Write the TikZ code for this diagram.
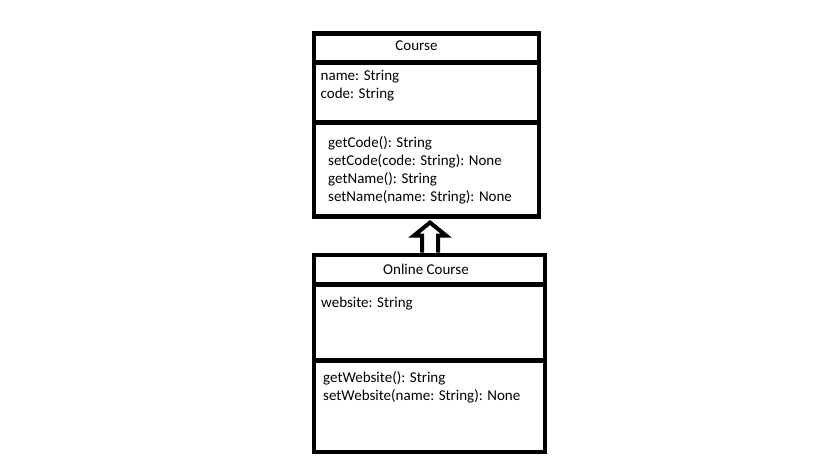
\documentclass[tikz,border=0pt]{standalone}
\usepackage{fontspec}
\setmainfont{Carlito}
\begin{document}
\begin{tikzpicture}[x=1pt,y=-1pt,
  umlbox/.style={draw=black,line width=4.5pt,fill=white,inner sep=0pt,anchor=north west},
  sep/.style={draw=black,line width=4.5pt},
  txt/.style={anchor=base west,inner sep=0pt,font=\fontsize{15}{18}\selectfont},
  ttl/.style={anchor=base,inner sep=0pt,font=\fontsize{15}{18}\selectfont},
  inh/.style={draw=black,line width=4pt,fill=white,miter limit=10}]
\useasboundingbox (0,0) rectangle (819,460);
% Course class
\node[umlbox,minimum width=225pt,minimum height=182.5pt] (course) at (311.5,31.5) {};
\draw[sep] (311.5,62.5) -- (536.5,62.5);
\draw[sep] (311.5,122.5) -- (540,122.5);
\node[ttl] (ctitle) at (416.5,51) {Course};
\node[txt] (cname) at (320.5,81) {name: String};
\node[txt] (ccode) at (320.5,99) {code: String};
\node[txt] (m1) at (328,147) {getCode(): String};
\node[txt] (m2) at (328,165) {setCode(code: String): None};
\node[txt] (m3) at (328,183) {getName(): String};
\node[txt] (m4) at (328,201) {setName(name: String): None};
% Online Course class
\node[umlbox,minimum width=231pt,minimum height=197pt] (online) at (311.5,252.5) {};
\draw[sep] (311.5,284.5) -- (542.5,284.5);
\draw[sep] (311.5,360.5) -- (542.5,360.5);
\node[ttl] (otitle) at (426,274) {Online Course};
\node[txt] (oweb) at (321,307) {website: String};
\node[txt] (om1) at (323,382) {getWebsite(): String};
\node[txt] (om2) at (323,400) {setWebsite(name: String): None};
% inheritance arrow
\draw[inh] (422,252.5) -- (422,235.5) -- (414,235.5) -- (430,222.5) -- (446,235.5) -- (438,235.5) -- (438,252.5);
\end{tikzpicture}
\end{document}
